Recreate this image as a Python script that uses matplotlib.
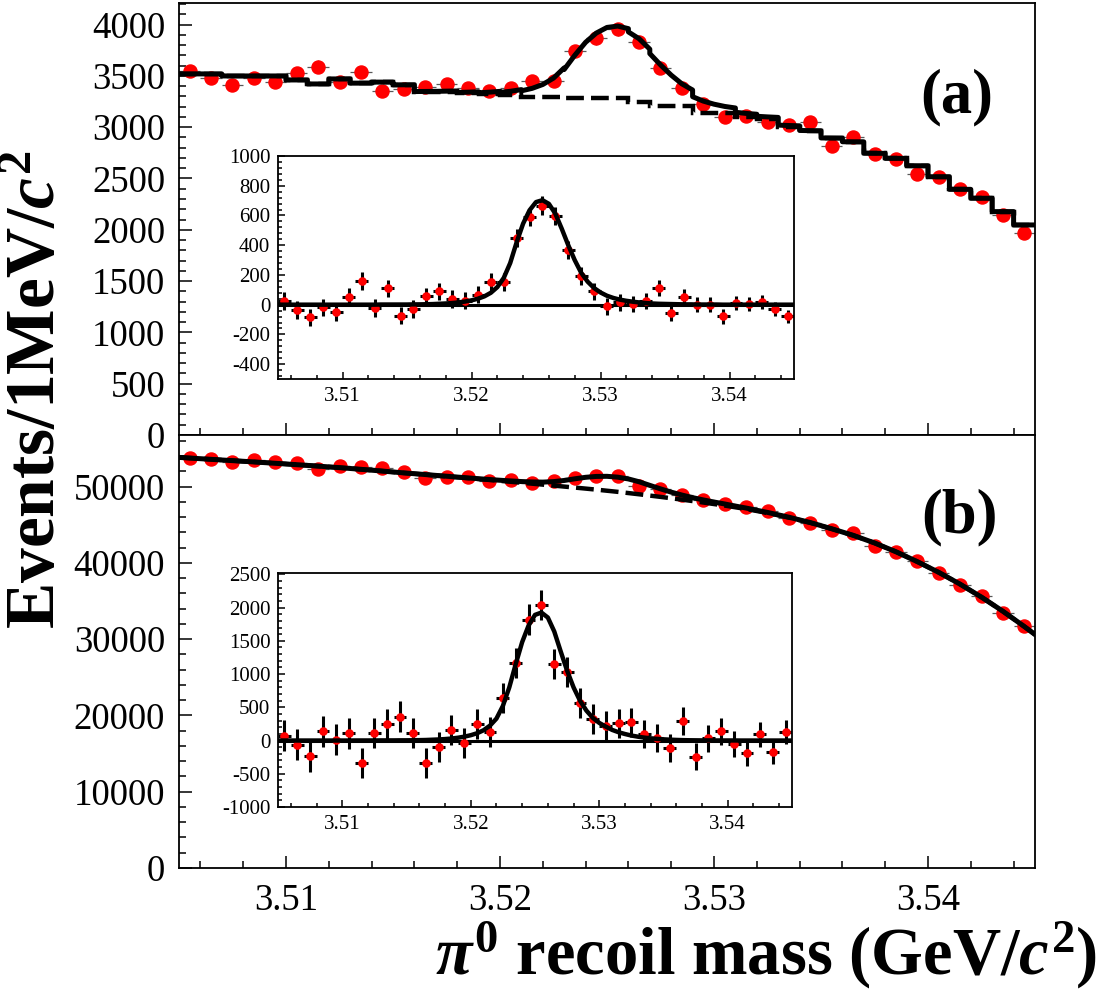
import numpy as np
import matplotlib
matplotlib.use('Agg')
import matplotlib.pyplot as plt
from matplotlib.ticker import MultipleLocator, FormatStrFormatter

plt.rcParams['font.family'] = ['Liberation Serif', 'DejaVu Serif']
plt.rcParams['axes.unicode_minus'] = False
plt.rcParams['mathtext.fontset'] = 'custom'
plt.rcParams['mathtext.rm'] = 'Liberation Serif:bold'
plt.rcParams['mathtext.it'] = 'Liberation Serif:italic:bold'
plt.rcParams['mathtext.bf'] = 'Liberation Serif:bold'

# 1 MeV bin centres, and 0.5 MeV grid (bin edges + centres) for the fit curves
mass = np.round(3.5055 + 0.001 * np.arange(40), 4)
grid = np.round(3.505 + 0.0005 * np.arange(81), 4)

# (a) data, background shape (per bin), background-subtracted data, signal curve
counts_a = [3548, 3483, 3411, 3483, 3444, 3525, 3590, 3444, 3535, 3356,
            3372, 3395, 3421, 3379, 3353, 3385, 3453, 3453, 3743, 3866,
            3954, 3834, 3574, 3379, 3223, 3103, 3109, 3054, 3022, 3048,
            2820, 2908, 2739, 2690, 2541, 2518, 2398, 2323, 2144, 1966]
err_a = [60, 59, 58, 59, 59, 59, 60, 59, 59, 58,
         58, 58, 58, 58, 58, 58, 59, 59, 61, 62,
         63, 62, 60, 58, 57, 56, 56, 55, 55, 55,
         53, 54, 52, 52, 50, 50, 49, 48, 46, 44]
bg_a = [3519, 3519, 3499, 3499, 3499, 3460, 3421, 3470, 3428, 3438,
        3411, 3345, 3345, 3330, 3320, 3310, 3298, 3298, 3282, 3282,
        3282, 3250, 3207, 3207, 3142, 3142, 3100, 3080, 3005, 2960,
        2890, 2855, 2744, 2695, 2624, 2517, 2394, 2307, 2177, 2047]
sub_a = [27, -36, -86, -18, -52, 50, 158, -23, 110, -74,
         -29, 56, 90, 38, 27, 68, 151, 151, 451, 591,
         665, 598, 365, 192, 90, -11, 16, 5, 23, 110,
         -56, 50, 0, 0, -79, 11, 5, 16, -29, -79]
sig_a = [0, 0, 0, 0, 0, 0, 0, 0, 0, 0, 0, 0, 0, 0, 0, 0, 1, 1, 1, 1,
         1, 2, 2, 3, 4, 6, 8, 11, 15, 21, 29, 40, 56, 80, 118, 180, 280, 420, 545, 635,
         690, 703, 678, 612, 510, 400, 300, 215, 155, 112, 82, 60, 45, 34, 26, 20, 15, 11, 8, 6,
         5, 4, 3, 2, 2, 1, 1, 1, 1, 0, 0, 0, 0, 0, 0, 0, 0, 0, 0, 0, 0]

# (b)
counts_b = [53775, 53560, 53170, 53470, 53170, 53040, 52290, 52690, 52600, 52380,
            51860, 51070, 51200, 51200, 50720, 50850, 50500, 50720, 51070, 51420,
            51420, 50070, 49670, 48880, 48230, 47700, 47270, 46790, 45900, 45170,
            44300, 43860, 42200, 41370, 40270, 38700, 37090, 35690, 33460, 31720]
err_b = [232, 231, 231, 231, 231, 230, 229, 230, 229, 229,
         228, 226, 226, 226, 225, 225, 225, 225, 226, 227,
         227, 224, 223, 221, 220, 218, 217, 216, 214, 213,
         210, 209, 205, 203, 201, 197, 193, 189, 183, 178]
sub_b = [75, -60, -240, 140, 15, 110, -335, 115, 250, 360,
         115, -335, -100, 160, -40, 255, 135, 640, 1160, 1820,
         2035, 1150, 1035, 565, 325, 225, 260, 275, 95, 35,
         -115, 295, -245, 35, 140, -55, -195, 95, -170, 130]
bg_b = [53815, 53730, 53645, 53560, 53475, 53390, 53305, 53220, 53130, 53040,
        52950, 52860, 52765, 52670, 52570, 52470, 52360, 52250, 52135, 52020,
        51900, 51780, 51670, 51560, 51445, 51330, 51215, 51100, 50980, 50860,
        50740, 50620, 50495, 50370, 50245, 50120, 49990, 49860, 49725, 49590,
        49445, 49300, 49140, 48980, 48810, 48640, 48460, 48280, 48090, 47900,
        47700, 47500, 47275, 47050, 46790, 46530, 46230, 45930, 45590, 45250,
        44850, 44450, 44025, 43600, 43100, 42600, 42025, 41450, 40800, 40150,
        39450, 38750, 37975, 37200, 36350, 35500, 34575, 33650, 32650, 31650,
        30600]
sig_b = [0, 0, 0, 0, 0, 0, 0, 0, 0, 0, 0, 0, 1, 1, 1, 1, 2, 2, 2, 3,
         3, 4, 6, 8, 12, 16, 22, 30, 42, 58, 80, 110, 155, 225, 330, 520, 800, 1150, 1480, 1730,
         1890, 1925, 1850, 1640, 1340, 1050, 800, 600, 450, 340, 265, 210, 160, 125, 98, 75, 58, 44, 33, 25,
         18, 13, 9, 6, 4, 3, 2, 2, 1, 1, 1, 1, 0, 0, 0, 0, 0, 0, 0, 0, 0]

W, H = 1106, 994
fig = plt.figure(figsize=(W / 100, H / 100), dpi=100)


def px_axes(x0, y0, x1, y1):
    return fig.add_axes([x0 / W, 1 - y1 / H, (x1 - x0) / W, (y1 - y0) / H])


def style(ax, ymaj, ymin, size, big):
    ax.set_xlim(3.505, 3.545)
    ax.xaxis.set_major_locator(MultipleLocator(0.01))
    ax.xaxis.set_minor_locator(MultipleLocator(0.002))
    ax.xaxis.set_major_formatter(FormatStrFormatter('%.2f'))
    ax.yaxis.set_major_locator(MultipleLocator(ymaj))
    ax.yaxis.set_minor_locator(MultipleLocator(ymin))
    ax.tick_params(which='both', direction='in', top=False, right=False,
                   labelsize=size, width=1.1)
    if big:
        ax.tick_params(which='major', length=9)
        ax.tick_params(which='minor', length=5)
        ax.tick_params(axis='x', pad=11.5)
        ax.tick_params(axis='y', pad=10)
    else:
        ax.tick_params(which='major', length=5)
        ax.tick_params(which='minor', length=3)
        ax.tick_params(pad=5.5)
    for s in ax.spines.values():
        s.set_linewidth(1.3)


ax_a = px_axes(179, 3, 1035, 435)
ax_b = px_axes(179, 435, 1035, 868)
in_a = px_axes(278, 156, 794, 379)
in_b = px_axes(278, 573, 792, 807)

# main panel (a): step background from the fit, plus signal
tot_x, tot_y = [], []
for i in range(40):
    for g in (2 * i, 2 * i + 1, 2 * i + 2):
        tot_x.append(grid[g])
        tot_y.append(bg_a[i] + sig_a[g])

ax_a.errorbar(mass, counts_a, xerr=0.0005, yerr=err_a, fmt='o', ms=9.4,
              mfc='red', mec='red', ecolor='0.35', elinewidth=0.9, zorder=2)
ax_a.stairs(bg_a, grid[::2], baseline=None, color='k', lw=3.2,
            ls=(0, (4, 1.6)), zorder=3)
ax_a.plot(tot_x, tot_y, color='k', lw=3.6, zorder=4)
style(ax_a, 500, 100, 26.5, True)
ax_a.set_ylim(0, 4210)
ax_a.tick_params(axis='x', labelbottom=False)

# main panel (b)
ax_b.errorbar(mass, counts_b, xerr=0.0005, yerr=err_b, fmt='o', ms=9.4,
              mfc='red', mec='red', ecolor='0.35', elinewidth=0.9, zorder=2)
ax_b.plot(grid, bg_b, color='k', lw=3.2, ls=(0, (4, 1.6)), zorder=3)
ax_b.plot(grid, np.array(bg_b) + np.array(sig_b), color='k', lw=3.6, zorder=4)
style(ax_b, 10000, 2000, 26.5, True)
ax_b.set_ylim(0, 56750)

# insets: background-subtracted spectra
for ax, sub, err, sig, ylim, ymaj, ymin in [
        (in_a, sub_a, err_a, sig_a, (-500, 1000), 200, 40),
        (in_b, sub_b, err_b, sig_b, (-1000, 2520), 500, 100)]:
    ax.axhline(0, color='k', lw=2.2, zorder=1)
    ax.errorbar(mass, sub, xerr=0.0005, yerr=err, fmt='o', ms=5.2,
                mfc='red', mec='red', ecolor='k', elinewidth=2.2, zorder=2)
    ax.plot(grid, sig, color='k', lw=3.2, zorder=3)
    style(ax, ymaj, ymin, 15, False)
    ax.set_ylim(*ylim)

fig.text(957 / W, 1 - 97 / H, '(a)', fontsize=45, fontweight='bold',
         ha='center', va='center')
fig.text(960 / W, 1 - 517 / H, '(b)', fontsize=45, fontweight='bold',
         ha='center', va='center')
fig.text(1097 / W, 1 - 955 / H, r'$\pi^{0}$ recoil mass (GeV/$c^{2}$)',
         fontsize=48, fontweight='bold', ha='right', va='center')
fig.text(38 / W, 1 - 390 / H, r'Events/1MeV/$c^{2}$', rotation=90,
         fontsize=50, fontweight='bold', ha='center', va='center')

fig.savefig('out.png', dpi=100)
